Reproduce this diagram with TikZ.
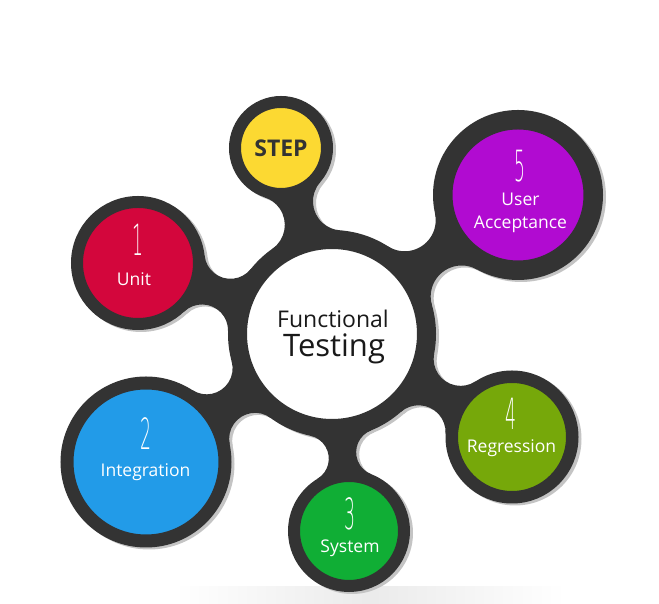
\documentclass[tikz,border=0pt]{standalone}
\usepackage{fontspec}
\setmainfont{Open Sans}
\newfontfamily\thinfont{DejaVu Sans ExtraLight}
\usepackage{graphicx}
\definecolor{ringc}{HTML}{333333}
\definecolor{shadowc}{HTML}{C4C4C4}
\definecolor{cstep}{HTML}{FCD932}
\definecolor{cunit}{HTML}{D3063C}
\definecolor{cinteg}{HTML}{229BE8}
\definecolor{csystem}{HTML}{10AE35}
\definecolor{cregress}{HTML}{76A80A}
\definecolor{caccept}{HTML}{B10BD1}
\pgfdeclarelayer{back}
\pgfdeclarelayer{bg}
\pgfsetlayers{back,bg,main}
\makeatletter
% #1 options, #2 node A, #3 outer radius A, #4 node B, #5 outer radius B, #6 fillet radius
\newcommand\neck[6][]{%
  \pgfpointanchor{#2}{center}\edef\nAx{\strip@pt\pgf@x}\edef\nAy{\strip@pt\pgf@y}%
  \pgfpointanchor{#4}{center}\edef\nBx{\strip@pt\pgf@x}\edef\nBy{\strip@pt\pgf@y}%
  \pgfmathsetmacro\ndx{\nBx-\nAx}\pgfmathsetmacro\ndy{\nBy-\nAy}%
  \pgfmathsetmacro\nd{10*veclen(\ndx/10,\ndy/10)}%
  \pgfmathsetmacro\nang{atan2(\ndy,\ndx)}%
  \pgfmathsetmacro\na{#3+#6}\pgfmathsetmacro\nb{#5+#6}%
  \pgfmathsetmacro\nxF{\nd/2+(#3-#5)*(#3+#5+2*#6)/(2*\nd)}%
  \pgfmathsetmacro\nh{sqrt((\na-\nxF)*(\na+\nxF))}%
  \pgfmathsetmacro\tAx{\nxF*#3/\na}\pgfmathsetmacro\tAy{\nh*#3/\na}%
  \pgfmathsetmacro\tBx{\nd+(\nxF-\nd)*#5/\nb}\pgfmathsetmacro\tBy{\nh*#5/\nb}%
  \pgfmathsetmacro\thA{atan2(-\nh,-\nxF)}\pgfmathsetmacro\thB{atan2(-\nh,\nd-\nxF)}%
  \fill[#1, shift={(\nAx,\nAy)}, rotate=\nang]
    (0,0) -- (\tAx,\tAy) arc[start angle=\thA, end angle=\thB, radius=#6]
    -- (\nd,0) -- (\tBx,-\tBy) arc[start angle=-\thB, end angle=-\thA, radius=#6] -- cycle;
}
\makeatother
\tikzset{
  bubble/.style={circle, inner sep=0pt, outer sep=0pt, draw=ringc},
  lab/.style={text=white, inner sep=0pt, anchor=base, font=\fontsize{17.5}{18}\selectfont},
  num/.style={text=white, inner sep=0pt, font=\thinfont\fontsize{43}{43}\selectfont},
}
\newcommand\dig[1]{\scalebox{0.4}[1]{#1}}
\begin{document}
\begin{tikzpicture}[x=1pt,y=1pt]
\useasboundingbox (0,0) rectangle (659,604);
\begin{pgfonlayer}{back}
\fill[white] (0,0) rectangle (659,604);
\shade[left color=white, right color=white, middle color=black!8] (175,0) rectangle (565,17);
\end{pgfonlayer}

% bubbles
\node[bubble, fill=white, line width=19pt, minimum size=189pt] (ctr) at (332,270) {};
\node[bubble, fill=cstep, line width=12pt, minimum size=92pt] (step) at (281,456) {};
\node[bubble, fill=cunit, line width=12pt, minimum size=122pt] (unit) at (138,341) {};
\node[bubble, fill=caccept, line width=19.5pt, minimum size=150.5pt] (accept) at (518,409) {};
\node[bubble, fill=cinteg, line width=13pt, minimum size=158pt] (integ) at (146,142) {};
\node[bubble, fill=csystem, line width=12pt, minimum size=110pt] (system) at (349,73) {};
\node[bubble, fill=cregress, line width=12.5pt, minimum size=120.5pt] (regress) at (512,167) {};

% texts
\node[inner sep=0pt, anchor=base, text=black!90, font=\fontsize{23}{24}\selectfont] (tf) at (333,276) {Functional};
\node[inner sep=0pt, anchor=base, text=black!90, font=\fontsize{31}{32}\selectfont] (tt) at (334,247) {Testing};
\node[inner sep=0pt, text=ringc, font=\fontsize{23}{23}\selectfont\bfseries] (ts) at (281,456) {STEP};

\node[num] (n1) at (137.5,364) {\dig{1}};
\node[lab] (l1) at (134,318) {Unit};
\node[num] (n2) at (145.5,170) {\dig{2}};
\node[lab] (l2) at (145.5,127) {Integration};
\node[num] (n3) at (350,90.5) {\dig{3}};
\node[lab] (l3) at (350,51) {System};
\node[num] (n4) at (511,190) {\dig{4}};
\node[lab] (l4) at (511.5,151) {Regression};
\node[num] (n5) at (520,438) {\dig{5}};
\node[lab] (l5a) at (520.5,398) {User};
\node[lab] (l5b) at (520.5,375) {Acceptance};

\begin{pgfonlayer}{bg}
  % shadows
  \foreach \n/\r in {ctr/104, step/52, unit/67, accept/85, integ/85.5, system/61, regress/66.5}
    \fill[shadowc] ([shift={(3,-2)}]\n.center) circle (\r);
  \neck[shadowc, xshift=3, yshift=-2]{ctr}{104}{step}{52}{29}
  \neck[shadowc, xshift=3, yshift=-2]{ctr}{104}{unit}{67}{26}
  \neck[shadowc, xshift=3, yshift=-2]{ctr}{104}{accept}{85}{31}
  \neck[shadowc, xshift=3, yshift=-2]{ctr}{104}{integ}{85.5}{26}
  \neck[shadowc, xshift=3, yshift=-2]{ctr}{104}{system}{61}{23.5}
  \neck[shadowc, xshift=3, yshift=-2]{ctr}{104}{regress}{66.5}{27}
  % connectors
  \neck[ringc]{ctr}{104}{step}{52}{29}
  \neck[ringc]{ctr}{104}{unit}{67}{26}
  \neck[ringc]{ctr}{104}{accept}{85}{31}
  \neck[ringc]{ctr}{104}{integ}{85.5}{26}
  \neck[ringc]{ctr}{104}{system}{61}{23.5}
  \neck[ringc]{ctr}{104}{regress}{66.5}{27}
\end{pgfonlayer}
\end{tikzpicture}
\end{document}
